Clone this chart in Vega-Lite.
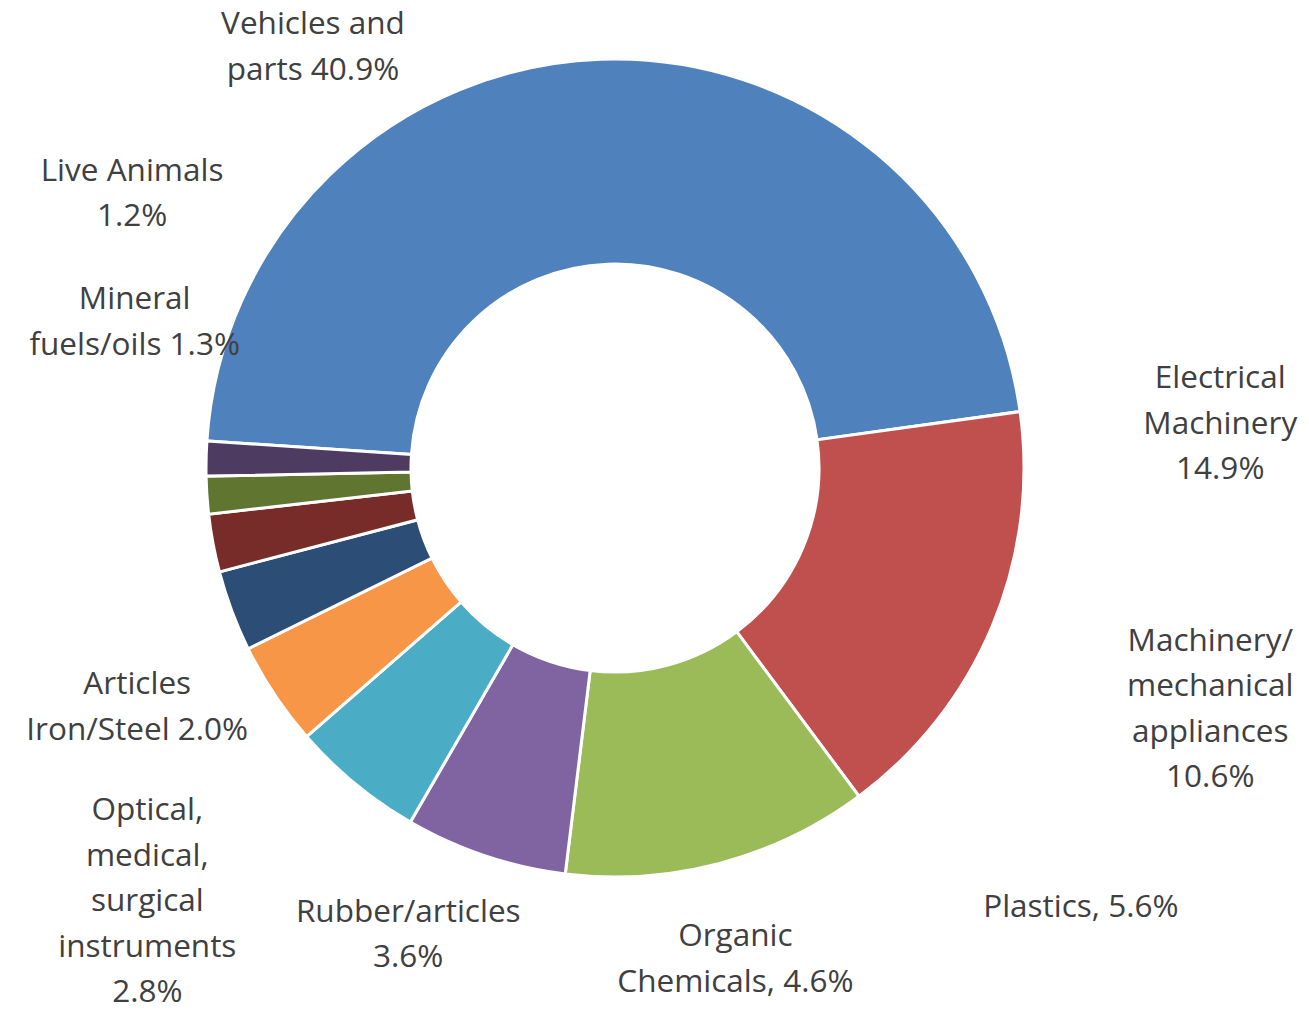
{
  "$schema": "https://vega.github.io/schema/vega-lite/v6.json",
  "width": 1230,
  "height": 936,
  "autosize": {"type": "none"},
  "padding": {"left": 0, "top": 0, "right": 79, "bottom": 77},
  "background": "white",
  "config": {
    "view": {"stroke": null},
    "text": {"font": "Open Sans", "fontSize": 31.5, "fill": "#404040", "lineHeight": 45.5, "align": "center", "baseline": "middle", "lineBreak": "\n"}
  },
  "data": {
    "values": [
      {"rank": 1, "category": "Vehicles and parts", "share": 40.9, "label": "Vehicles and\nparts 40.9%"},
      {"rank": 2, "category": "Electrical Machinery", "share": 14.9, "label": "Electrical\nMachinery\n14.9%"},
      {"rank": 3, "category": "Machinery/mechanical appliances", "share": 10.6, "label": "Machinery/\nmechanical\nappliances\n10.6%"},
      {"rank": 4, "category": "Plastics", "share": 5.6, "label": "Plastics, 5.6%"},
      {"rank": 5, "category": "Organic Chemicals", "share": 4.6, "label": "Organic\nChemicals, 4.6%"},
      {"rank": 6, "category": "Rubber/articles", "share": 3.6, "label": "Rubber/articles\n3.6%"},
      {"rank": 7, "category": "Optical, medical, surgical instruments", "share": 2.8, "label": "Optical,\nmedical,\nsurgical\ninstruments\n2.8%"},
      {"rank": 8, "category": "Articles Iron/Steel", "share": 2.0, "label": "Articles\nIron/Steel 2.0%"},
      {"rank": 9, "category": "Mineral fuels/oils", "share": 1.3, "label": "Mineral\nfuels/oils 1.3%"},
      {"rank": 10, "category": "Live Animals", "share": 1.2, "label": "Live Animals\n1.2%"}
    ]
  },
  "encoding": {
    "theta": {"field": "share", "type": "quantitative", "stack": true, "scale": {"range": [-1.5045, 4.7787]}},
    "order": {"field": "rank", "type": "quantitative"},
    "detail": {"field": "category", "type": "nominal"}
  },
  "layer": [
    {
      "mark": {"type": "arc", "innerRadius": 204, "outerRadius": 409, "stroke": "white", "strokeWidth": 3},
      "encoding": {
        "color": {
          "field": "category",
          "type": "nominal",
          "legend": null,
          "scale": {
            "domain": ["Vehicles and parts", "Electrical Machinery", "Machinery/mechanical appliances", "Plastics", "Organic Chemicals", "Rubber/articles", "Optical, medical, surgical instruments", "Articles Iron/Steel", "Mineral fuels/oils", "Live Animals"],
            "range": ["#4F81BD", "#C0504D", "#9BBB59", "#8064A2", "#4BACC6", "#F79646", "#2C4D75", "#772C2A", "#5F7530", "#4D3B62"]
          }
        }
      }
    },
    {"mark": {"type": "text", "radius": 306, "dx": -291, "dy": -137}, "encoding": {"text": {"condition": {"test": "datum.rank == 1", "field": "label", "type": "nominal"}, "value": ""}}},
    {"mark": {"type": "text", "radius": 306, "dx": 323, "dy": -207}, "encoding": {"text": {"condition": {"test": "datum.rank == 2", "field": "label", "type": "nominal"}, "value": ""}}},
    {"mark": {"type": "text", "radius": 306, "dx": 517, "dy": -122}, "encoding": {"text": {"condition": {"test": "datum.rank == 3", "field": "label", "type": "nominal"}, "value": ""}}},
    {"mark": {"type": "text", "radius": 306, "dx": 563, "dy": 150}, "encoding": {"text": {"condition": {"test": "datum.rank == 4", "field": "label", "type": "nominal"}, "value": ""}}},
    {"mark": {"type": "text", "radius": 306, "dx": 315, "dy": 233}, "encoding": {"text": {"condition": {"test": "datum.rank == 5", "field": "label", "type": "nominal"}, "value": ""}}},
    {"mark": {"type": "text", "radius": 306, "dx": 48, "dy": 275}, "encoding": {"text": {"condition": {"test": "datum.rank == 6", "field": "label", "type": "nominal"}, "value": ""}}},
    {"mark": {"type": "text", "radius": 306, "dx": -181, "dy": 236}, "encoding": {"text": {"condition": {"test": "datum.rank == 7", "field": "label", "type": "nominal"}, "value": ""}}},
    {"mark": {"type": "text", "radius": 306, "dx": -177, "dy": 161}, "encoding": {"text": {"condition": {"test": "datum.rank == 8", "field": "label", "type": "nominal"}, "value": ""}}},
    {"mark": {"type": "text", "radius": 306, "dx": -175, "dy": -188}, "encoding": {"text": {"condition": {"test": "datum.rank == 9", "field": "label", "type": "nominal"}, "value": ""}}},
    {"mark": {"type": "text", "radius": 306, "dx": -177, "dy": -289}, "encoding": {"text": {"condition": {"test": "datum.rank == 10", "field": "label", "type": "nominal"}, "value": ""}}}
  ]
}
